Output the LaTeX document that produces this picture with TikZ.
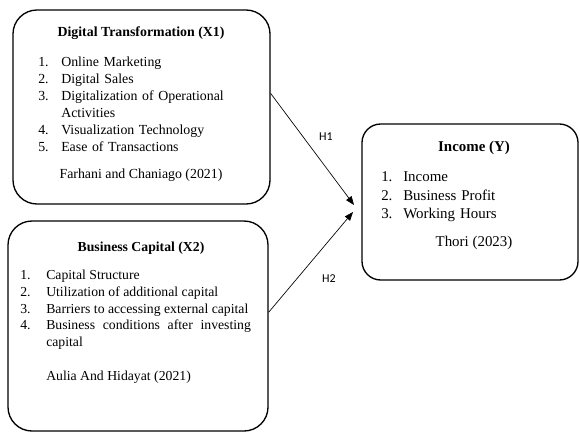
\documentclass[tikz,border=0pt]{standalone}
\usepackage{fontspec}
\setmainfont{Liberation Serif}
\newfontfamily\hypfont{Carlito}
\usetikzlibrary{arrows.meta}

\newlength{\itmind}
\newcommand{\itm}[2]{\hangindent=\itmind\hangafter=1\noindent\makebox[\itmind][l]{#1}#2\par}

\begin{document}
\begin{tikzpicture}[
  x=0.75pt,
  y=-0.75pt,
  varbox/.style={
    draw,
    line width=1pt,
    rounded corners=18pt,
    inner sep=0pt
  },
  vartitle/.style={
    inner sep=0pt,
    font=\fontsize{10.4}{12.75}\selectfont\bfseries
  },
  itemlist/.style={
    anchor=north west,
    inner sep=0pt,
    align=left,
    font=\fontsize{10.4}{12.75}\selectfont
  },
  source/.style={
    inner sep=0pt,
    font=\fontsize{10.4}{12.75}\selectfont
  },
  hyp/.style={
    inner sep=0pt,
    font=\hypfont\fontsize{9}{11}\selectfont
  },
  arr/.style={-{Triangle[length=6.5pt,width=5pt]}, line width=0.5pt}
]
\useasboundingbox (0,0) rectangle (580,432);

\node[varbox, minimum width=192.75pt, minimum height=145.5pt] (x1) at (141.5,107) {};
\node[varbox, minimum width=195pt, minimum height=157.5pt] (x2) at (138,326) {};
\node[varbox, rounded corners=14pt, minimum width=162pt, minimum height=117pt] (y) at (470,202) {};

% Digital Transformation (X1)
\node[vartitle] (x1t) at (141,33) {Digital Transformation (X1)};
\node[itemlist, text width=145pt] (x1l) at (38,57) {\setlength{\itmind}{17.25pt}%
  \itm{1.}{Online Marketing}
  \itm{2.}{Digital Sales}
  \itm{3.}{Digitalization of Operational Activities}
  \itm{4.}{Visualization Technology}
  \itm{5.}{Ease of Transactions}};
\node[source] (x1s) at (141,175) {Farhani and Chaniago (2021)};

% Business Capital (X2)
\node[vartitle, font=\fontsize{10.3}{12.5}\selectfont\bfseries] (x2t) at (141,248) {Business Capital (X2)};
\node[itemlist, align=justify, text width=173pt, font=\fontsize{10.3}{12.5}\selectfont] (x2l) at (20,270) {\setlength{\itmind}{19.5pt}%
  \itm{1.}{Capital Structure}
  \itm{2.}{Utilization of additional capital}
  \itm{3.}{Barriers to accessing external capital}
  \itm{4.}{Business conditions after investing capital}};
\node[source, anchor=west, font=\fontsize{10.3}{12.5}\selectfont] (x2s) at (46,377) {Aulia And Hidayat (2021)};

% Income (Y)
\node[vartitle, font=\fontsize{11.2}{13.9}\selectfont\bfseries] (yt) at (474,148) {Income (Y)};
\node[itemlist, text width=130pt, font=\fontsize{11.2}{13.9}\selectfont] (yl) at (381,171.5) {\setlength{\itmind}{16.5pt}%
  \itm{1.}{Income}
  \itm{2.}{Business Profit}
  \itm{3.}{Working Hours}};
\node[source, font=\fontsize{11.2}{13.9}\selectfont] (ys) at (474,243) {Thori (2023)};

% Arrows
\coordinate (tip1) at (354,205);
\coordinate (tip2) at (353,212);
\draw[arr] (x1.6) -- (tip1);
\draw[arr] (x2.6) -- (tip2);
\node[hyp] (h1) at (326,137) {H1};
\node[hyp] (h2) at (329,279) {H2};

\end{tikzpicture}
\end{document}
